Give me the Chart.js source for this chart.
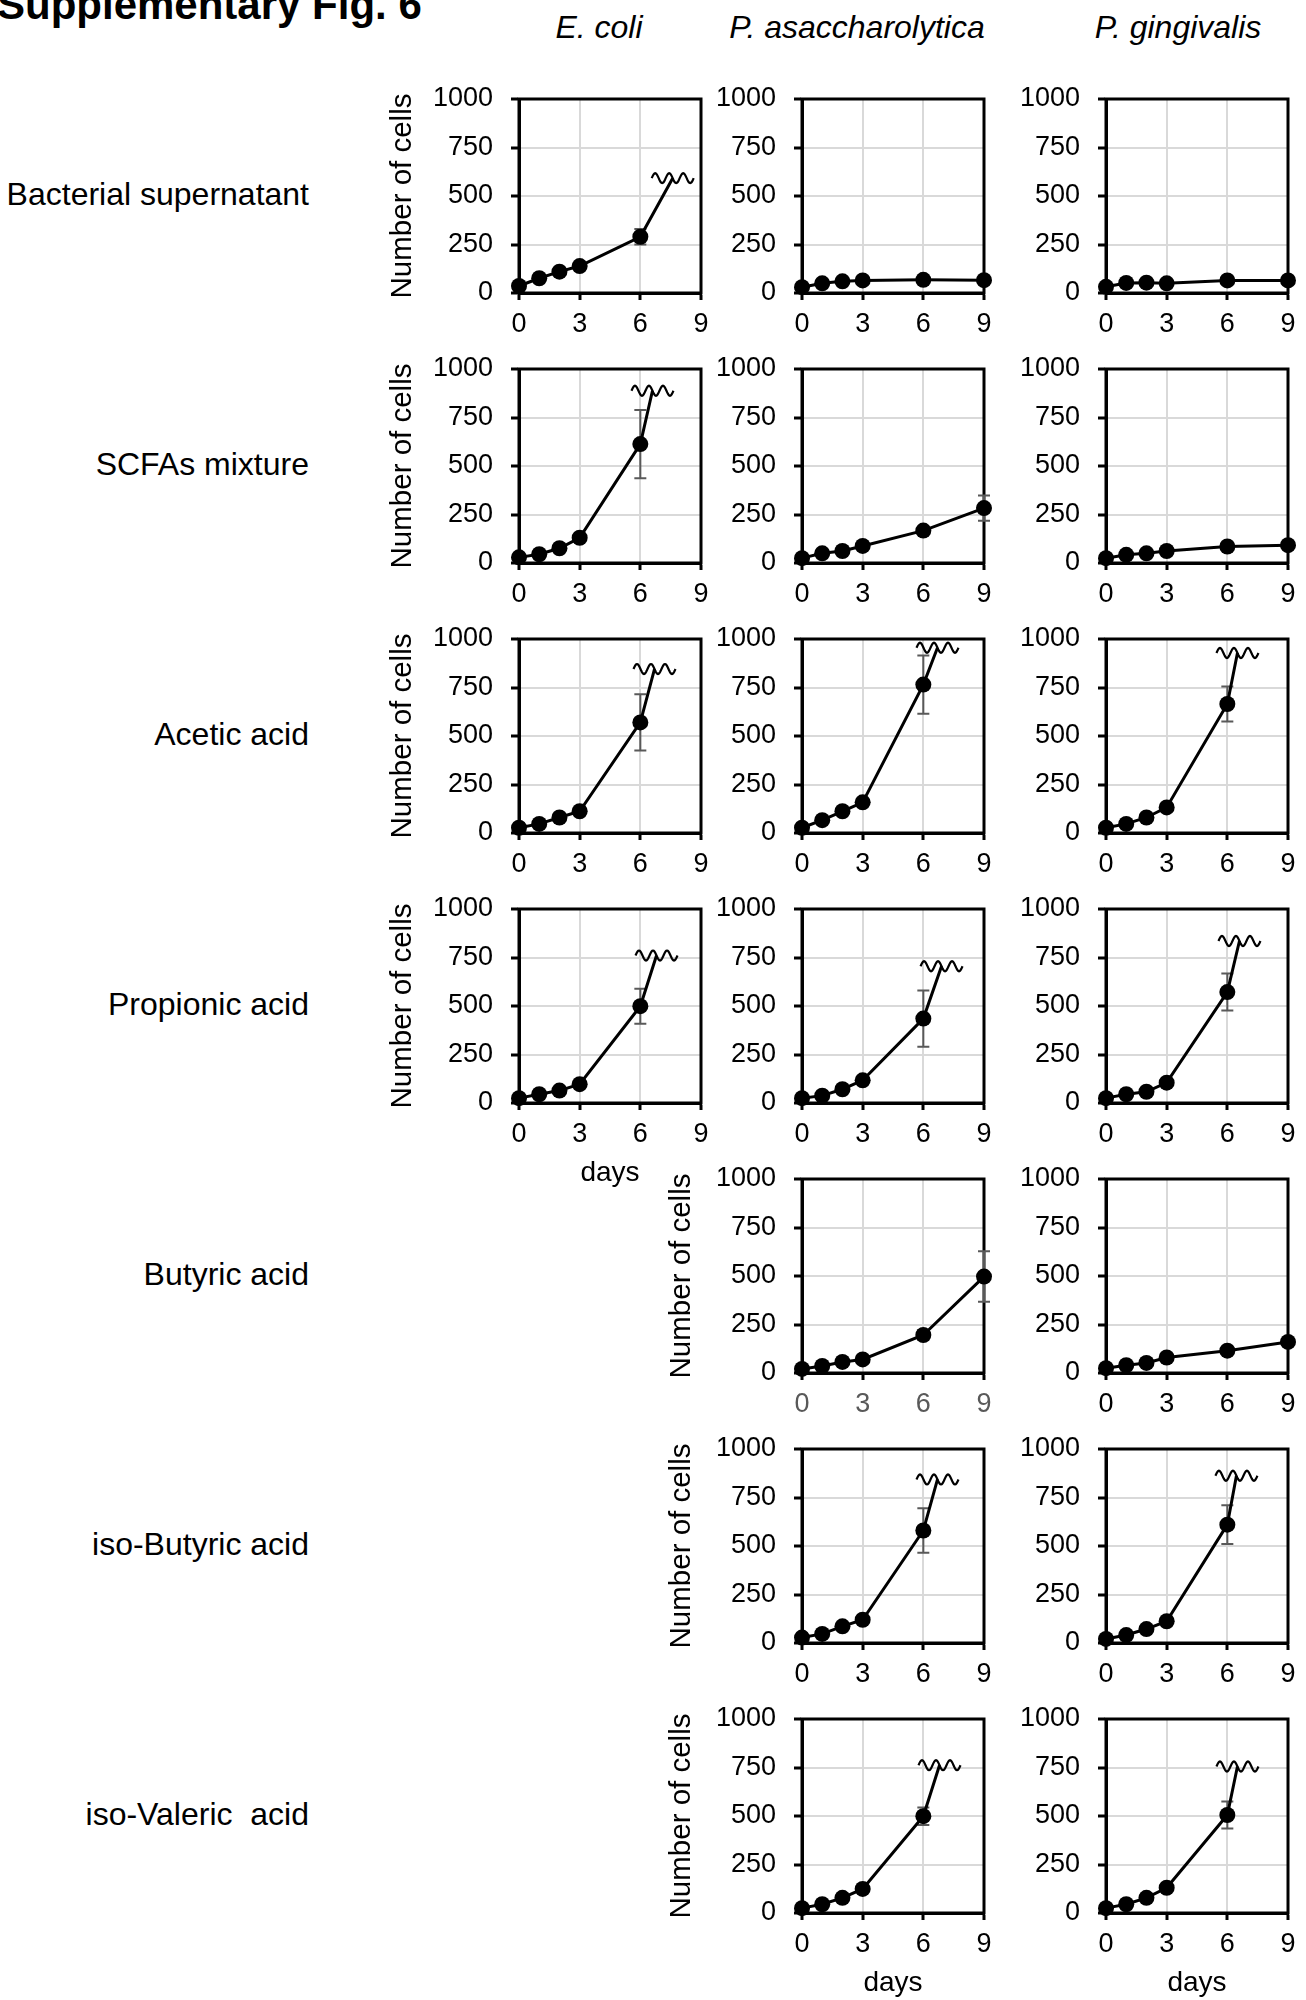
<!DOCTYPE html>
<html>
<head>
<meta charset="utf-8">
<script src="https://cdn.jsdelivr.net/npm/chart.js@4.4.0/dist/chart.umd.min.js"></script>
<style>
  body { margin: 0; width: 1306px; height: 2000px; position: relative; overflow: hidden; background: #fff;
         font-family: 'Liberation Sans', Arial, sans-serif; color: #000; }
  .lbl { position: absolute; white-space: pre; line-height: 1; }
  canvas { position: absolute; }
</style>
</head>
<body>
<div class="lbl" style="left:-3px; top:-16px; font-size:42px; font-weight:bold;">Supplementary Fig. 6</div>
<script>
// ---- data ----
var days = [0, 1, 2, 3, 6, 9];
var xTicks = [0, 3, 6, 9];
var yTicks = [0, 250, 500, 750, 1000];
var species = ['E. coli', 'P. asaccharolytica', 'P. gingivalis'];
var treatments = ['Bacterial supernatant', 'SCFAs mixture', 'Acetic acid', 'Propionic acid',
                  'Butyric acid', 'iso-Butyric acid', 'iso-Valeric  acid'];

// means per day, error (sd) per day, and the broken-axis end point [day, cells]
var ecoliSup = [36, 76, 110, 139, 290];        var ecoliSupSd = [0, 0, 0, 0, 40];      var ecoliSupBrk = [7.6, 592];
var paSup = [30, 50, 60, 65, 68, 66];          var paSupSd = [0, 0, 0, 0, 0, 0];
var pgSup = [32, 52, 53, 50, 65, 65];          var pgSupSd = [0, 0, 0, 0, 0, 0];

var ecoliScfa = [29, 45, 76, 130, 613];        var ecoliScfaSd = [0, 0, 0, 0, 176];    var ecoliScfaBrk = [6.6, 888];
var paScfa = [25, 50, 62, 88, 167, 283];       var paScfaSd = [0, 0, 0, 0, 0, 65];
var pgScfa = [25, 42, 50, 62, 85, 92];         var pgScfaSd = [0, 0, 0, 0, 0, 0];

var ecoliAce = [27, 47, 80, 112, 570];         var ecoliAceSd = [0, 0, 0, 0, 145];     var ecoliAceBrk = [6.7, 845];
var paAce = [27, 66, 112, 158, 765];           var paAceSd = [0, 0, 0, 0, 150];        var paAceBrk = [6.7, 955];
var pgAce = [27, 47, 80, 132, 665];            var pgAceSd = [0, 0, 0, 0, 90];         var pgAceBrk = [6.5, 928];

var ecoliProp = [25, 45, 64, 97, 499];         var ecoliPropSd = [0, 0, 0, 0, 90];     var ecoliPropBrk = [6.8, 760];
var paProp = [25, 38, 71, 117, 435];           var paPropSd = [0, 0, 0, 0, 145];       var paPropBrk = [6.9, 705];
var pgProp = [25, 45, 58, 105, 572];           var pgPropSd = [0, 0, 0, 0, 95];        var pgPropBrk = [6.6, 835];

var paBut = [21, 36, 57, 70, 196, 497];        var paButSd = [0, 0, 0, 0, 25, 130];
var pgBut = [25, 40, 52, 80, 115, 160];        var pgButSd = [0, 0, 0, 0, 0, 0];

var paIsoBut = [28, 47, 86, 120, 580];         var paIsoButSd = [0, 0, 0, 0, 115];     var paIsoButBrk = [6.7, 843];
var pgIsoBut = [21, 41, 72, 112, 610];         var pgIsoButSd = [0, 0, 0, 0, 100];     var pgIsoButBrk = [6.45, 862];

var paIsoVal = [25, 45, 78, 124, 499];         var paIsoValSd = [0, 0, 0, 0, 45];      var paIsoValBrk = [6.8, 762];
var pgIsoVal = [25, 45, 78, 130, 505];         var pgIsoValSd = [0, 0, 0, 0, 70];      var pgIsoValBrk = [6.5, 755];

// ---- layout ----
var colLeft = [519, 802, 1106];
var colTitleX = [599, 857, 1178];
var rowTop = [99, 369, 639, 909, 1179, 1449, 1719];
var PW = 182, PH = 194;

var panels = [
  {row: 0, col: 0, mean: ecoliSup, sd: ecoliSupSd, brk: ecoliSupBrk, yTitle: true},
  {row: 0, col: 1, mean: paSup, sd: paSupSd},
  {row: 0, col: 2, mean: pgSup, sd: pgSupSd},
  {row: 1, col: 0, mean: ecoliScfa, sd: ecoliScfaSd, brk: ecoliScfaBrk, yTitle: true},
  {row: 1, col: 1, mean: paScfa, sd: paScfaSd},
  {row: 1, col: 2, mean: pgScfa, sd: pgScfaSd},
  {row: 2, col: 0, mean: ecoliAce, sd: ecoliAceSd, brk: ecoliAceBrk, yTitle: true},
  {row: 2, col: 1, mean: paAce, sd: paAceSd, brk: paAceBrk},
  {row: 2, col: 2, mean: pgAce, sd: pgAceSd, brk: pgAceBrk},
  {row: 3, col: 0, mean: ecoliProp, sd: ecoliPropSd, brk: ecoliPropBrk, yTitle: true, xTitle: true},
  {row: 3, col: 1, mean: paProp, sd: paPropSd, brk: paPropBrk},
  {row: 3, col: 2, mean: pgProp, sd: pgPropSd, brk: pgPropBrk},
  {row: 4, col: 1, mean: paBut, sd: paButSd, yTitle: true, tickColor: '#595959'},
  {row: 4, col: 2, mean: pgBut, sd: pgButSd},
  {row: 5, col: 1, mean: paIsoBut, sd: paIsoButSd, brk: paIsoButBrk, yTitle: true},
  {row: 5, col: 2, mean: pgIsoBut, sd: pgIsoButSd, brk: pgIsoButBrk},
  {row: 6, col: 1, mean: paIsoVal, sd: paIsoValSd, brk: paIsoValBrk, yTitle: true, xTitle: true},
  {row: 6, col: 2, mean: pgIsoVal, sd: pgIsoValSd, brk: pgIsoValBrk, xTitle: true}
];

// text labels
species.forEach(function(s, i) {
  var d = document.createElement('div');
  d.className = 'lbl';
  d.style.cssText = 'left:' + colTitleX[i] + 'px; top:11px; font-size:32px; font-style:italic; transform:translateX(-50%);';
  d.textContent = s;
  document.body.appendChild(d);
});
treatments.forEach(function(t, i) {
  var d = document.createElement('div');
  d.className = 'lbl';
  d.style.cssText = 'right:' + (1306 - 309) + 'px; top:' + (rowTop[i] + PH / 2 - 18) + 'px; font-size:32px;';
  d.textContent = t;
  document.body.appendChild(d);
});

// plugins
var boxFrame = {
  id: 'boxFrame',
  beforeDatasetsDraw: function(chart) {
    var a = chart.chartArea, ctx = chart.ctx;
    ctx.save();
    ctx.strokeStyle = '#000';
    ctx.lineWidth = 3;
    ctx.strokeRect(a.left, a.top, a.right - a.left, a.bottom - a.top);
    ctx.restore();
  }
};

var errorBars = {
  id: 'errorBars',
  beforeDatasetsDraw: function(chart, args, opts) {
    var ctx = chart.ctx, x = chart.scales.x, y = chart.scales.y;
    var pts = chart.data.datasets[0].data;
    ctx.save();
    ctx.strokeStyle = '#595959';
    ctx.lineWidth = 2;
    (opts.sd || []).forEach(function(e, i) {
      if (!e) return;
      var px = x.getPixelForValue(pts[i].x);
      var t = y.getPixelForValue(pts[i].y + e), b = y.getPixelForValue(pts[i].y - e);
      ctx.beginPath();
      ctx.moveTo(px, t); ctx.lineTo(px, b);
      ctx.moveTo(px - 6, t); ctx.lineTo(px + 6, t);
      ctx.moveTo(px - 6, b); ctx.lineTo(px + 6, b);
      ctx.stroke();
    });
    ctx.restore();
  }
};

var breakMark = {
  id: 'breakMark',
  afterDatasetsDraw: function(chart, args, opts) {
    if (!opts.on) return;
    var meta = chart.getDatasetMeta(0);
    var last = meta.data[meta.data.length - 1];
    var ctx = chart.ctx, w = 42, amp = 5;
    ctx.save();
    ctx.strokeStyle = '#000';
    ctx.lineWidth = 2.2;
    ctx.beginPath();
    for (var k = 0; k <= 60; k++) {
      var t = k / 60;
      var px = last.x - w / 2 + t * w;
      var py = last.y - amp * Math.sin(t * Math.PI * 6);
      if (k === 0) ctx.moveTo(px, py); else ctx.lineTo(px, py);
    }
    ctx.stroke();
    ctx.restore();
  }
};

Chart.defaults.font.family = "'Liberation Sans', Arial, sans-serif";
Chart.defaults.color = '#000';

function makePanel(p) {
  var YW = 140, PT = 16, PR = 20, XH = 90;
  var cv = document.createElement('canvas');
  cv.width = YW + PW + PR;
  cv.height = PT + PH + XH;
  cv.style.left = (colLeft[p.col] - YW) + 'px';
  cv.style.top = (rowTop[p.row] - PT) + 'px';
  document.body.appendChild(cv);

  var pts = p.mean.map(function(v, i) { return {x: days[i], y: v}; });
  if (p.brk) pts.push({x: p.brk[0], y: p.brk[1]});
  var radii = pts.map(function(d, i) { return i < p.mean.length ? 8 : 0; });

  new Chart(cv, {
    type: 'line',
    data: {
      datasets: [{
        data: pts,
        borderColor: '#000',
        borderWidth: 3,
        pointRadius: radii,
        pointBackgroundColor: '#000',
        pointBorderWidth: 0,
        tension: 0,
        clip: false
      }]
    },
    options: {
      responsive: false,
      animation: false,
      devicePixelRatio: 1,
      layout: {padding: 0},
      plugins: {
        legend: {display: false},
        tooltip: {enabled: false},
        errorBars: {sd: p.sd},
        breakMark: {on: !!p.brk}
      },
      scales: {
        x: {
          type: 'linear', min: 0, max: 9,
          afterBuildTicks: function(s) { s.ticks = xTicks.map(function(v) { return {value: v}; }); },
          afterFit: function(s) { s.height = XH; s.paddingLeft = 0; s.paddingRight = PR; },
          grid: {color: '#d9d9d9', lineWidth: 2, tickLength: 7, tickColor: '#000', tickWidth: 3},
          border: {color: '#000', width: 3},
          ticks: {font: {size: 27}, color: p.tickColor || '#000', padding: 8, maxRotation: 0, autoSkip: false,
                  callback: function(v) { return String(v); }},
          title: {display: !!p.xTitle, text: 'days', font: {size: 28}, color: '#000', padding: {top: 0, bottom: 3}}
        },
        y: {
          min: 0, max: 1000,
          afterBuildTicks: function(s) { s.ticks = yTicks.map(function(v) { return {value: v}; }); },
          afterFit: function(s) { s.width = YW; s.paddingTop = PT; s.paddingBottom = 0; },
          grid: {color: '#d9d9d9', lineWidth: 2, tickLength: 8, tickColor: '#000', tickWidth: 3},
          border: {color: '#000', width: 3},
          ticks: {font: {size: 27}, color: '#000', padding: 18, autoSkip: false,
                  callback: function(v) { return String(v); }},
          title: {display: !!p.yTitle, text: 'Number of cells', font: {size: 29.5}, color: '#000',
                  padding: {top: p.col === 0 ? 6 : 2, bottom: 0}}
        }
      }
    },
    plugins: [boxFrame, errorBars, breakMark]
  });
}

panels.forEach(makePanel);
</script>
</body>
</html>
